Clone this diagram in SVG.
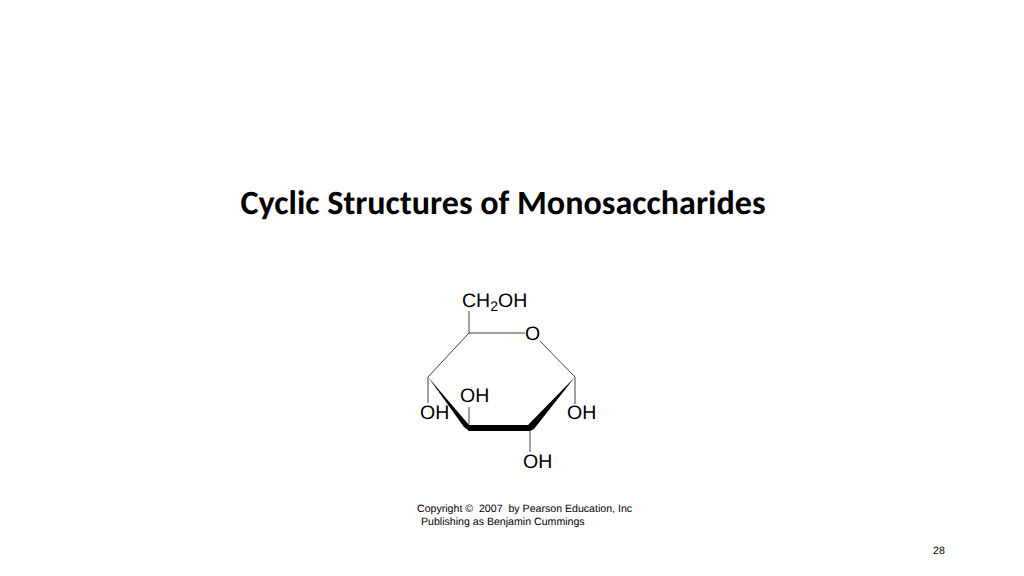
<svg xmlns="http://www.w3.org/2000/svg" width="1024" height="576" viewBox="0 0 1024 576">
<style>
text{font-family:"Liberation Sans",Arial,sans-serif;fill:#000;white-space:pre;text-rendering:geometricPrecision}
.l{font-size:19.5px}
.c{font-size:10.6px}
.b{fill:none;stroke:#444;stroke-width:1}
</style>
<rect width="1024" height="576" fill="#fff"/>
<text x="503" y="214" text-anchor="middle" style="font-family:Carlito,'Open Sans','Liberation Sans',sans-serif;font-weight:700;font-size:34px" textLength="525" lengthAdjust="spacingAndGlyphs">Cyclic Structures of Monosaccharides</text>
<g id="connectors">
<path class="b" d="M469 311V333H525M540 341L575 377V404M469 333L428 377V403M530 430V452M469 407V428"/>
<polygon points="428,377 469,425 469,431 464,427"/>
<polygon points="469,425 530,425 530,431 469,431"/>
<polygon points="575,377 534,429 530,431 528,425"/>
</g>
<g id="ch2oh"><text class="l" x="462" y="307">CH<tspan font-size="14" dy="4">2</tspan><tspan dy="-4">OH</tspan></text></g>
<g id="o"><text class="l" x="525" y="340">O</text></g>
<g id="oh1"><text class="l" x="460" y="402">OH</text></g>
<g id="oh2"><text class="l" x="420" y="419">OH</text></g>
<g id="oh3"><text class="l" x="567" y="419">OH</text></g>
<g id="oh4"><text class="l" x="523" y="468">OH</text></g>
<text class="c" x="417" y="512">Copyright ©  2007  by Pearson Education, Inc</text>
<text class="c" x="418" y="525"> Publishing as Benjamin Cummings</text>
<text class="c" x="933" y="554">28</text>
</svg>
